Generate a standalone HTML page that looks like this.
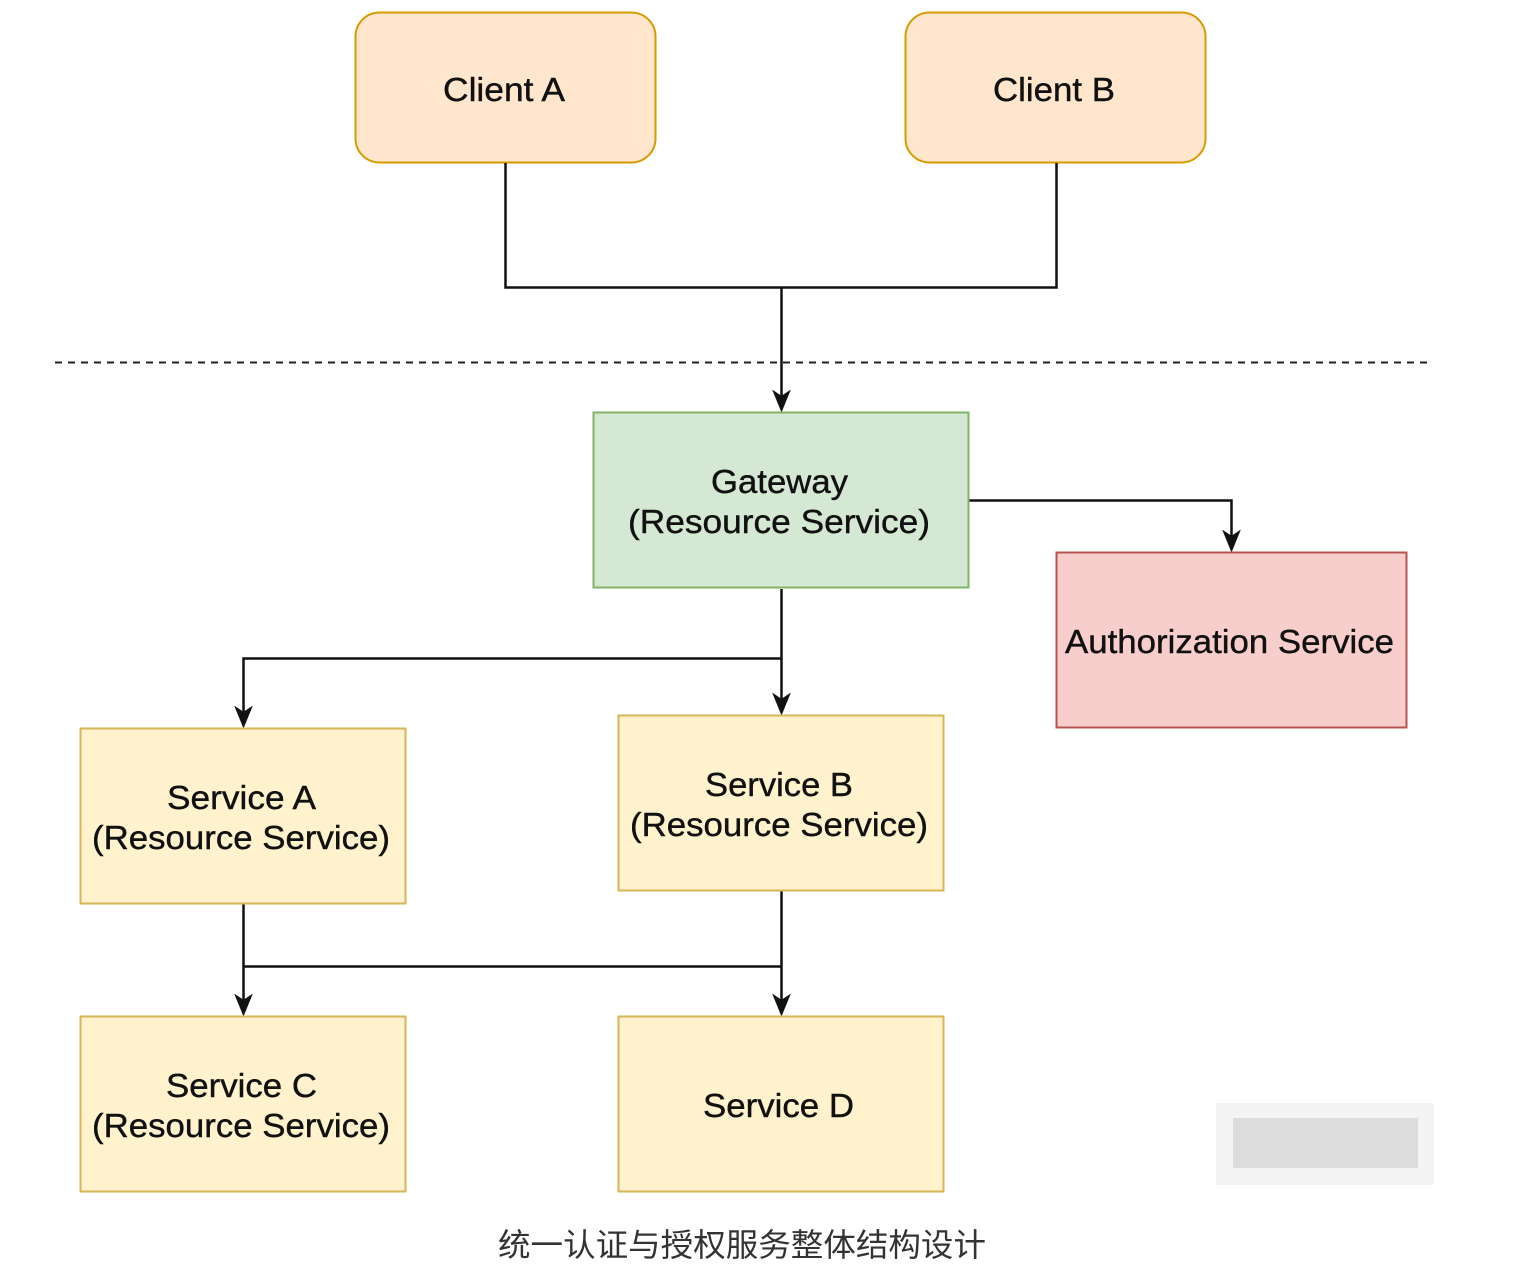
<!DOCTYPE html>
<html><head><meta charset="utf-8"><style>
html,body{margin:0;padding:0;background:#fff;}
svg{display:block;}
</style></head><body>
<svg width="1529" height="1287" viewBox="0 0 1529 1287" xmlns="http://www.w3.org/2000/svg">
<g font-family="Liberation Sans, Helvetica, Arial, sans-serif" font-size="33" fill="#111" stroke="#111" stroke-width="0.4" text-anchor="middle" lengthAdjust="spacingAndGlyphs">
<rect x="355.5" y="12.5" width="300" height="150" rx="24" fill="#ffe6cc" stroke="#d79b00" stroke-width="2"/>
<text x="504" y="101" textLength="122" lengthAdjust="spacingAndGlyphs">Client A</text>
<rect x="905.5" y="12.5" width="300" height="150" rx="24" fill="#ffe6cc" stroke="#d79b00" stroke-width="2"/>
<text x="1054" y="101" textLength="122" lengthAdjust="spacingAndGlyphs">Client B</text>

<g stroke="#111" stroke-width="2.5" fill="none">
<polyline points="505.5,163 505.5,287.5 1056.5,287.5 1056.5,163"/>
<line x1="781.5" y1="287" x2="781.5" y2="396"/>
<polyline points="969,500.5 1231.5,500.5 1231.5,536"/>
<line x1="781.5" y1="589" x2="781.5" y2="699"/>
<polyline points="781.5,658.5 243.5,658.5 243.5,712"/>
<line x1="243.5" y1="904" x2="243.5" y2="1000"/>
<line x1="243.5" y1="966.5" x2="781.5" y2="966.5"/>
<line x1="781.5" y1="891" x2="781.5" y2="1000"/>
</g>
<line x1="55" y1="362.5" x2="1430" y2="362.5" stroke="#222" stroke-width="2" stroke-dasharray="7,6"/>
<g fill="#111">
<path d="M781.5,412 l-9,-22 l9,6 l9,-6 z"/>
<path d="M1231.5,552 l-9,-22 l9,6 l9,-6 z"/>
<path d="M781.5,715 l-9,-22 l9,6 l9,-6 z"/>
<path d="M243.5,728 l-9,-22 l9,6 l9,-6 z"/>
<path d="M243.5,1016 l-9,-22 l9,6 l9,-6 z"/>
<path d="M781.5,1016 l-9,-22 l9,6 l9,-6 z"/>
</g>

<rect x="593.5" y="412.5" width="375" height="175" fill="#d5e8d4" stroke="#82b366" stroke-width="2"/>
<text x="779.5" y="493" textLength="137" lengthAdjust="spacingAndGlyphs">Gateway</text>
<text x="779" y="533" textLength="302" lengthAdjust="spacingAndGlyphs">(Resource Service)</text>

<rect x="1056.5" y="552.5" width="350" height="175" fill="#f8cecc" stroke="#b85450" stroke-width="2"/>
<text x="1229.5" y="653" textLength="329" lengthAdjust="spacingAndGlyphs">Authorization Service</text>

<rect x="80.5" y="728.5" width="325" height="175" fill="#fff2cc" stroke="#d6b656" stroke-width="2"/>
<text x="241.5" y="809" textLength="149" lengthAdjust="spacingAndGlyphs">Service A</text>
<text x="241" y="849" textLength="298" lengthAdjust="spacingAndGlyphs">(Resource Service)</text>

<rect x="618.5" y="715.5" width="325" height="175" fill="#fff2cc" stroke="#d6b656" stroke-width="2"/>
<text x="779" y="796" textLength="148" lengthAdjust="spacingAndGlyphs">Service B</text>
<text x="779" y="836" textLength="298" lengthAdjust="spacingAndGlyphs">(Resource Service)</text>

<rect x="80.5" y="1016.5" width="325" height="175" fill="#fff2cc" stroke="#d6b656" stroke-width="2"/>
<text x="241.5" y="1097" textLength="151" lengthAdjust="spacingAndGlyphs">Service C</text>
<text x="241" y="1137" textLength="298" lengthAdjust="spacingAndGlyphs">(Resource Service)</text>

<rect x="618.5" y="1016.5" width="325" height="175" fill="#fff2cc" stroke="#d6b656" stroke-width="2"/>
<text x="778.5" y="1117" textLength="151" lengthAdjust="spacingAndGlyphs">Service D</text>
</g>

<rect x="1216" y="1103" width="218" height="82" fill="#f4f4f4"/>
<rect x="1233" y="1118" width="185" height="50" fill="#dcdcdc"/>

<text x="742" y="1256" font-family="Liberation Sans, Noto Sans CJK SC, sans-serif" font-size="32" fill="#333" text-anchor="middle" textLength="488" lengthAdjust="spacingAndGlyphs">统一认证与授权服务整体结构设计</text>
</svg>
</body></html>
